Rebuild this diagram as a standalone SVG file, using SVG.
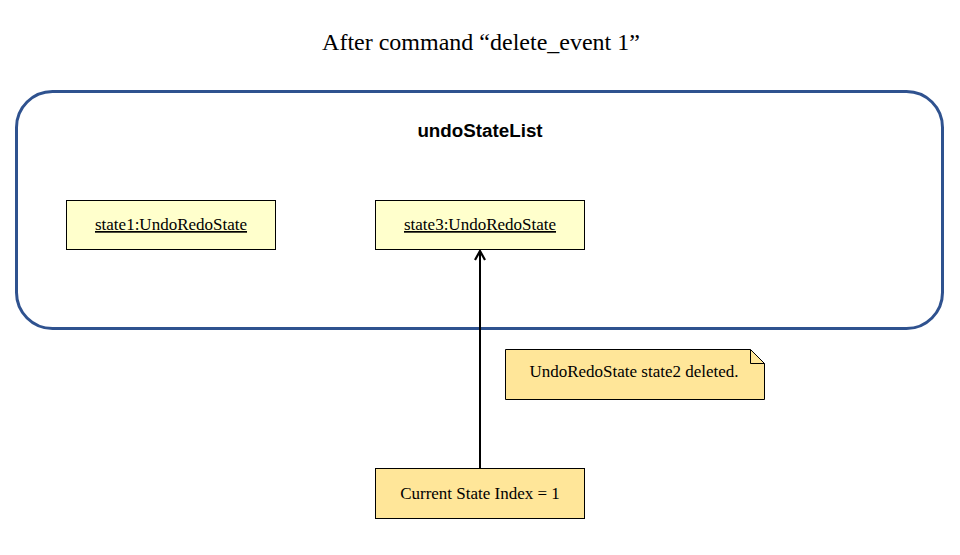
<svg xmlns="http://www.w3.org/2000/svg" width="960" height="555" viewBox="0 0 960 555">
<style>
.serif{font-family:"Liberation Serif","Times New Roman",serif;fill:#000}
.box{fill:#FFFFCC;stroke:#000;stroke-width:1}
.note{fill:#FFE699;stroke:#000;stroke-width:1}
</style>
<defs>
<marker id="arr" viewBox="0 0 12 12" refX="10" refY="6" markerWidth="12" markerHeight="12" markerUnits="userSpaceOnUse" orient="auto">
<path d="M1,1 L10,6 L1,11" fill="none" stroke="#000" stroke-width="2.2"/>
</marker>
</defs>
<rect width="960" height="555" fill="#fff"/>
<text class="serif" x="481" y="50" text-anchor="middle" font-size="24">After command “delete_event 1”</text>
<g id="undoStateList">
<rect x="16.5" y="91.5" width="926" height="237" rx="36" ry="36" fill="none" stroke="#2F528F" stroke-width="3"/>
<text x="480" y="137" text-anchor="middle" font-family="Liberation Sans, Arial, sans-serif" font-weight="bold" font-size="18.8">undoStateList</text>
</g>
<g id="state1">
<rect class="box" x="66.5" y="200.5" width="209" height="49"/>
<text class="serif" x="171" y="230" text-anchor="middle" font-size="17" text-decoration="underline">state1:UndoRedoState</text>
</g>
<g id="state3">
<rect class="box" x="375.5" y="200.5" width="209" height="49"/>
<text class="serif" x="480" y="230" text-anchor="middle" font-size="17" text-decoration="underline">state3:UndoRedoState</text>
</g>
<g id="note">
<path class="note" d="M505.5,349.5 H750.5 L764.5,363.5 V399.5 H505.5 Z"/>
<path d="M750.5,349.5 V363.5 H764.5" fill="none" stroke="#000" stroke-width="1"/>
<text class="serif" x="634" y="377" text-anchor="middle" font-size="17">UndoRedoState state2 deleted.</text>
</g>
<g id="currentIndex">
<rect class="note" x="375.5" y="468.5" width="209" height="50"/>
<text class="serif" x="480" y="499" text-anchor="middle" font-size="17">Current State Index = 1</text>
</g>
<g id="connectors">
<line x1="480" y1="468" x2="480" y2="251" stroke="#000" stroke-width="2" marker-end="url(#arr)"/>
</g>
</svg>
